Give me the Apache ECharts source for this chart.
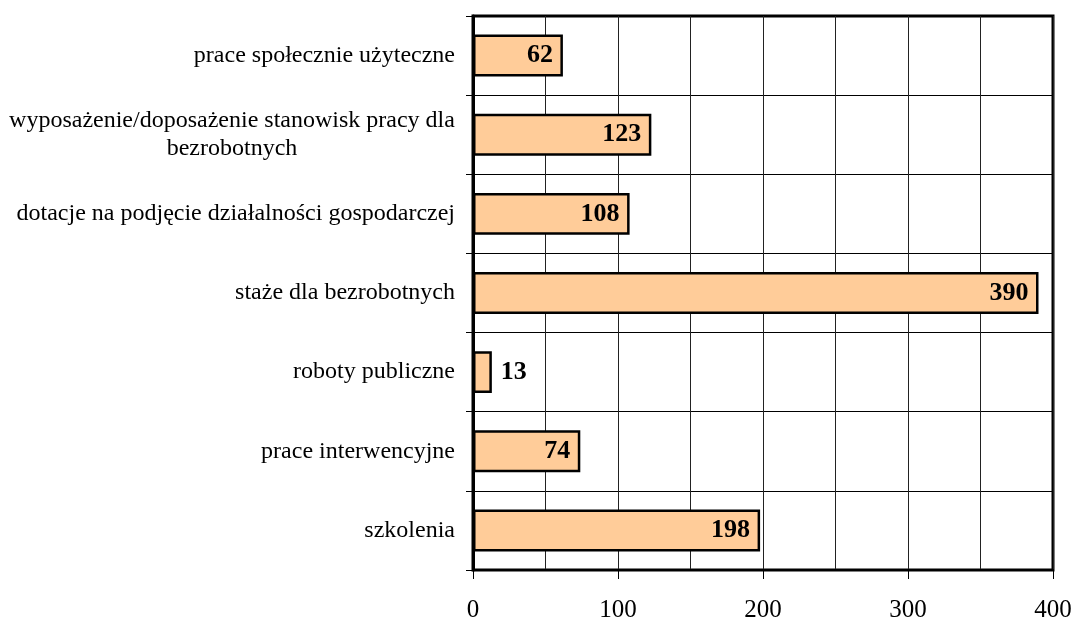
<!DOCTYPE html>
<html>
<head>
<meta charset="utf-8">
<script src="https://cdn.jsdelivr.net/npm/echarts@6/dist/echarts.min.js"></script>
<style>
html, body { margin: 0; padding: 0; background: #fff; }
#chart { width: 1074px; height: 619px; }
</style>
</head>
<body>
<div id="chart"></div>
<script>
// bottom to top, as the category axis runs
var categories = [
    'szkolenia',
    'prace interwencyjne',
    'roboty publiczne',
    'staże dla bezrobotnych',
    'dotacje na podjęcie działalności gospodarczej',
    'wyposażenie/doposażenie stanowisk pracy dla\nbezrobotnych',
    'prace społecznie użyteczne'
];
var values = [198, 74, 13, 390, 108, 123, 62];
var xTicks = [0, 100, 200, 300, 400];

var font = 'Liberation Serif, Times New Roman, serif';

var chart = echarts.init(document.getElementById('chart'));
chart.setOption({
    animation: false,
    grid: {
        left: 473,
        right: 21,
        top: 16,
        bottom: 49,
        show: true,
        borderColor: '#000',
        borderWidth: 3,
        containLabel: false,
        outerBoundsMode: 'none'
    },
    xAxis: {
        type: 'value',
        min: xTicks[0],
        max: xTicks[xTicks.length - 1],
        interval: 100,
        axisLine: { show: true, lineStyle: { color: '#000', width: 2 } },
        axisTick: { show: true, length: 9, lineStyle: { color: '#000', width: 1 } },
        axisLabel: { color: '#000', fontFamily: font, fontSize: 25, margin: 28 },
        splitLine: { show: true, lineStyle: { color: '#222', width: 1 } },
        minorTick: { show: false, splitNumber: 2 },
        minorSplitLine: { show: true, lineStyle: { color: '#222', width: 1 } }
    },
    yAxis: {
        type: 'category',
        data: categories,
        axisLine: { show: true, lineStyle: { color: '#000', width: 3 } },
        axisTick: { show: true, length: 7, lineStyle: { color: '#000', width: 1 } },
        splitLine: { show: true, lineStyle: { color: '#000', width: 1 } },
        axisLabel: {
            color: '#000',
            fontFamily: font,
            fontSize: 24,
            margin: 18,
            lineHeight: 28,
            formatter: function (v) {
                if (v.indexOf('\n') < 0) return v;
                return v.split('\n').map(function (s) { return '{w|' + s + '}'; }).join('\n');
            },
            rich: {
                w: { width: 446, align: 'center', fontFamily: font, fontSize: 24, lineHeight: 28, color: '#000' }
            }
        }
    },
    series: [{
        type: 'bar',
        data: values.map(function (v) {
            return v < 30 ? { value: v, label: { position: 'right', distance: 9 } } : v;
        }),
        barWidth: '53%',
        itemStyle: { color: '#FFCC99', borderColor: '#000', borderWidth: 2.5 },
        label: {
            show: true,
            position: 'insideRight',
            distance: 10,
            color: '#000',
            fontFamily: font,
            fontWeight: 'bold',
            fontSize: 26
        }
    }]
});
</script>
</body>
</html>
